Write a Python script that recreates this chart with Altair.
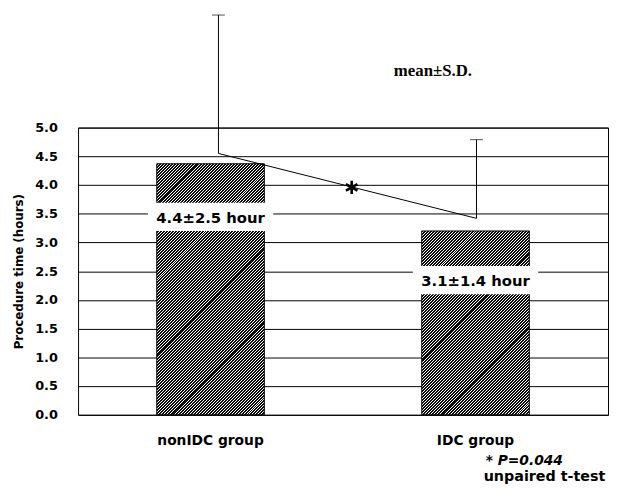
import altair as alt
import pandas as pd

# ---- data ----
groups = ["nonIDC group", "IDC group"]
bar_heights = [4.37, 3.20]
err_low = [4.55, 3.42]
err_high = [6.96, 4.79]
bar_labels = ["4.4±2.5 hour", "3.1±1.4 hour"]
label_box_low = [3.20, 2.10]
label_box_high = [3.69, 2.59]
sig_y = 3.96
y_ticks = [0, 0.5, 1, 1.5, 2, 2.5, 3, 3.5, 4, 4.5, 5]

df = pd.DataFrame({
    "group": groups,
    "height": bar_heights,
    "lo": err_low,
    "hi": err_high,
    "label": bar_labels,
    "box_lo": label_box_low,
    "box_hi": label_box_high,
})
sig_df = pd.DataFrame({"g1": [groups[0]], "g2": [groups[1]],
                       "y1": [err_low[0]], "y2": [err_low[1]], "ys": [sig_y]})

W, H = 537, 291
PAD_I, PAD_O = 0.594, 0.297
x_scale = alt.Scale(domain=groups, paddingInner=PAD_I, paddingOuter=PAD_O)
y_scale = alt.Scale(domain=[0, 5], nice=False, zero=True)
band_px = (1 - PAD_I) * W / (2 - PAD_I + 2 * PAD_O)
px_per_unit = H / 5.0

x_axis = alt.Axis(title=None, labelAngle=0, ticks=False, domain=False,
                  labelFont="DejaVu Sans", labelFontWeight="bold",
                  labelFontSize=14, labelColor="black", labelPadding=19)
y_axis = alt.Axis(values=y_ticks, format=".1f", grid=True, labelOverlap=False,
                  gridColor="black", gridWidth=1, gridOpacity=1,
                  ticks=False, domain=False,
                  labelFont="DejaVu Sans", labelFontWeight="bold",
                  labelFontSize=13, labelColor="black", labelPadding=21,
                  title="Procedure time (hours)",
                  titleFont="DejaVu Sans", titleFontWeight="bold",
                  titleFontSize=12, titleColor="black", titlePadding=9)


def XX(field="group"):
    return alt.X(f"{field}:N", scale=x_scale, sort=groups, axis=x_axis)


def YY(field):
    return alt.Y(f"{field}:Q", scale=y_scale, axis=y_axis)


def hatch(h_units, spacing_px=3.0, dark=0.67):
    """Diagonal '////' hatching: stripes repeat every spacing_px pixels horizontally."""
    w = band_px
    h = h_units * px_per_unit
    s = (w + h) / (w * w + h * h)
    dt = spacing_px / (w + h)
    stops = []
    t = 0.0
    while t < 1.0:
        b = min(t + dark * dt, 1.0)
        c = min(t + dt, 1.0)
        stops += [alt.GradientStop(offset=t, color="#0a0a0a"),
                  alt.GradientStop(offset=b, color="#0a0a0a"),
                  alt.GradientStop(offset=b, color="#ffffff"),
                  alt.GradientStop(offset=c, color="#ffffff")]
        t += dt
    return alt.LinearGradient(gradient="linear", stops=stops,
                              x1=0, y1=0, x2=s * w, y2=s * h)


base = alt.Chart(df)
layers = []
for i, g in enumerate(groups):
    layers.append(
        base.transform_filter(alt.datum.group == g)
        .mark_bar(fill=hatch(bar_heights[i]), stroke="black", strokeWidth=1)
        .encode(x=XX(), y=YY("height"))
    )

boxes = base.mark_bar(color="white", width=127).encode(
    x=XX(), y=YY("box_lo"), y2="box_hi:Q")
texts = base.transform_calculate(mid="(datum.box_lo + datum.box_hi) / 2").mark_text(
    font="DejaVu Sans", fontWeight="bold", fontSize=15, color="black",
    baseline="middle", dy=1).encode(x=XX(), y=YY("mid"), text="label:N")

err_offsets = [8, 1]
err_layers = []
for i, g in enumerate(groups):
    sub = base.transform_filter(alt.datum.group == g)
    err_layers.append(sub.mark_rule(color="black", strokeWidth=1, xOffset=err_offsets[i])
                      .encode(x=XX(), y=YY("lo"), y2="hi:Q"))
    err_layers.append(sub.mark_tick(color="black", thickness=1, size=13, orient="horizontal",
                                    xOffset=err_offsets[i])
                      .encode(x=XX(), y=YY("hi")))

sig_base = alt.Chart(sig_df)
sig_line = sig_base.mark_rule(color="black", strokeWidth=1, xOffset=8, x2Offset=1).encode(
    x=XX("g1"), x2="g2:N", y=YY("y1"), y2="y2:Q")
asterisk = sig_base.mark_point(
    shape="M0,-1L0,1M-0.87,-0.5L0.87,0.5M-0.87,0.5L0.87,-0.5",
    size=180, filled=False, strokeWidth=2.6, color="black", opacity=1, xOffset=143).encode(
    x=XX("g1"), y=YY("ys"))

mean_sd = alt.Chart(sig_df).mark_text(
    text="mean±S.D.", font="Liberation Serif", fontWeight="bold", fontSize=17,
    align="left", baseline="alphabetic", color="black").encode(
    x=alt.value(320), y=alt.value(-52))
foot1 = alt.Chart(sig_df).mark_text(
    text="* P=0.044", font="DejaVu Sans", fontWeight="bold", fontStyle="italic", fontSize=14,
    align="left", baseline="alphabetic", color="black").encode(
    x=alt.value(413), y=alt.value(342))
foot2 = alt.Chart(sig_df).mark_text(
    text="unpaired t-test", font="DejaVu Sans", fontWeight="bold", fontSize=14.5,
    align="left", baseline="alphabetic", color="black").encode(
    x=alt.value(411), y=alt.value(358))

chart = alt.layer(*layers, boxes, texts, *err_layers, sig_line, asterisk,
                  mean_sd, foot1, foot2).properties(
    width=W, height=H,
    autosize=alt.AutoSizeParams(type="none"),
    padding={"left": 71, "top": 118, "right": 1, "bottom": 70},
    background="white",
).configure_view(stroke="black", strokeWidth=1)

chart.save("out.html", embed_options={"renderer": "svg", "actions": False})
